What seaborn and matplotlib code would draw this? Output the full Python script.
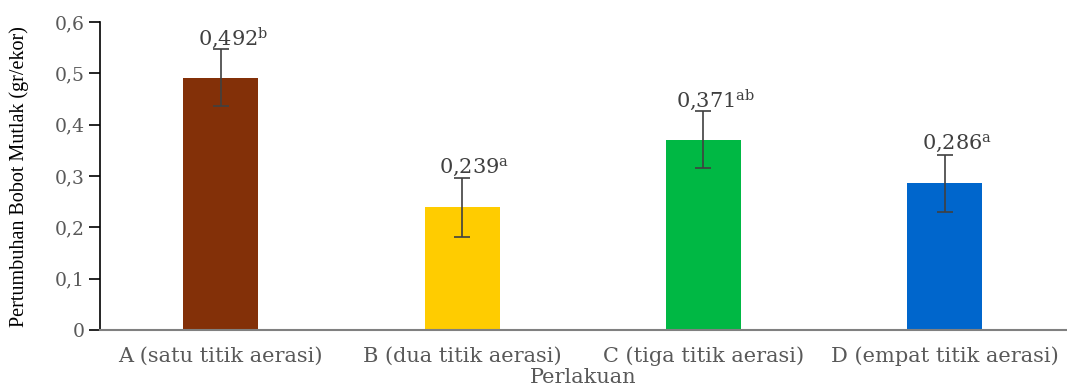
import matplotlib
matplotlib.use("Agg")
import matplotlib.pyplot as plt
import seaborn as sns
import numpy as np
import pandas as pd

# Data
categories = ["A (satu titik aerasi)", "B (dua titik aerasi)",
              "C (tiga titik aerasi)", "D (empat titik aerasi)"]
values = [0.492, 0.239, 0.371, 0.286]
errors = [0.056, 0.057, 0.056, 0.056]
letters = ["b", "a", "ab", "a"]
colors = ["#833008", "#FFCC00", "#00B844", "#0066CC"]
yticks = [0, 0.1, 0.2, 0.3, 0.4, 0.5, 0.6]

sns.set_style("white")
plt.rcParams["font.family"] = ["DejaVu Serif"]
plt.rcParams["mathtext.fontset"] = "dejavuserif"

df = pd.DataFrame({"Perlakuan": categories, "Bobot": values})

fig = plt.figure(figsize=(10.67, 3.87), dpi=100)
ax = fig.add_axes([0.0937, 0.147, 0.905, 0.796])

sns.barplot(data=df, x="Perlakuan", y="Bobot", hue="Perlakuan",
            palette=colors, width=0.31, legend=False, ax=ax,
            saturation=1, linewidth=0)

pos = np.arange(len(categories))
ax.errorbar(pos, values, yerr=errors, fmt="none", ecolor="#404040",
            elinewidth=1.2, capsize=6, capthick=1.2)

for x, v, e, l in zip(pos, values, errors, letters):
    txt = f"{v:.3f}".replace(".", ",") + r"$^{\mathrm{" + l + "}}$"
    ax.text(x + 0.05, v + 0.077, txt, ha="center", va="center",
            fontsize=15, color="#404040")

ax.set_xlim(-0.5, 3.5)
ax.set_ylim(0, 0.6)
ax.set_yticks(yticks)
ax.set_yticklabels([("0" if t == 0 else f"{t:.1f}".replace(".", ",")) for t in yticks],
                   fontsize=13.5, color="#595959")
ax.set_xticks(pos)
ax.set_xticklabels(categories, fontsize=15, color="#595959")
ax.set_xticks(np.arange(-0.5, 4.0, 1.0), minor=True)
ax.tick_params(axis="x", which="major", length=0, pad=12)
ax.tick_params(axis="x", which="minor", length=8, direction="out",
               color="black", width=1.2)
ax.tick_params(axis="y", which="major", length=8, direction="out",
               color="black", width=1.2, pad=3, left=True)

ax.set_xlabel("Perlakuan", fontsize=15, color="#595959", labelpad=1)
ax.set_ylabel("Pertumbuhan Bobot Mutlak (gr/ekor)", fontsize=14.5,
              color="black", fontfamily="Liberation Serif")
ax.yaxis.set_label_coords(-0.074, 0.5)

for s in ["top", "right"]:
    ax.spines[s].set_visible(False)
ax.spines["left"].set_color("black")
ax.spines["left"].set_linewidth(1.2)
ax.spines["bottom"].set_color("#808080")
ax.spines["bottom"].set_linewidth(1.5)

fig.savefig("out.png", dpi=100)
